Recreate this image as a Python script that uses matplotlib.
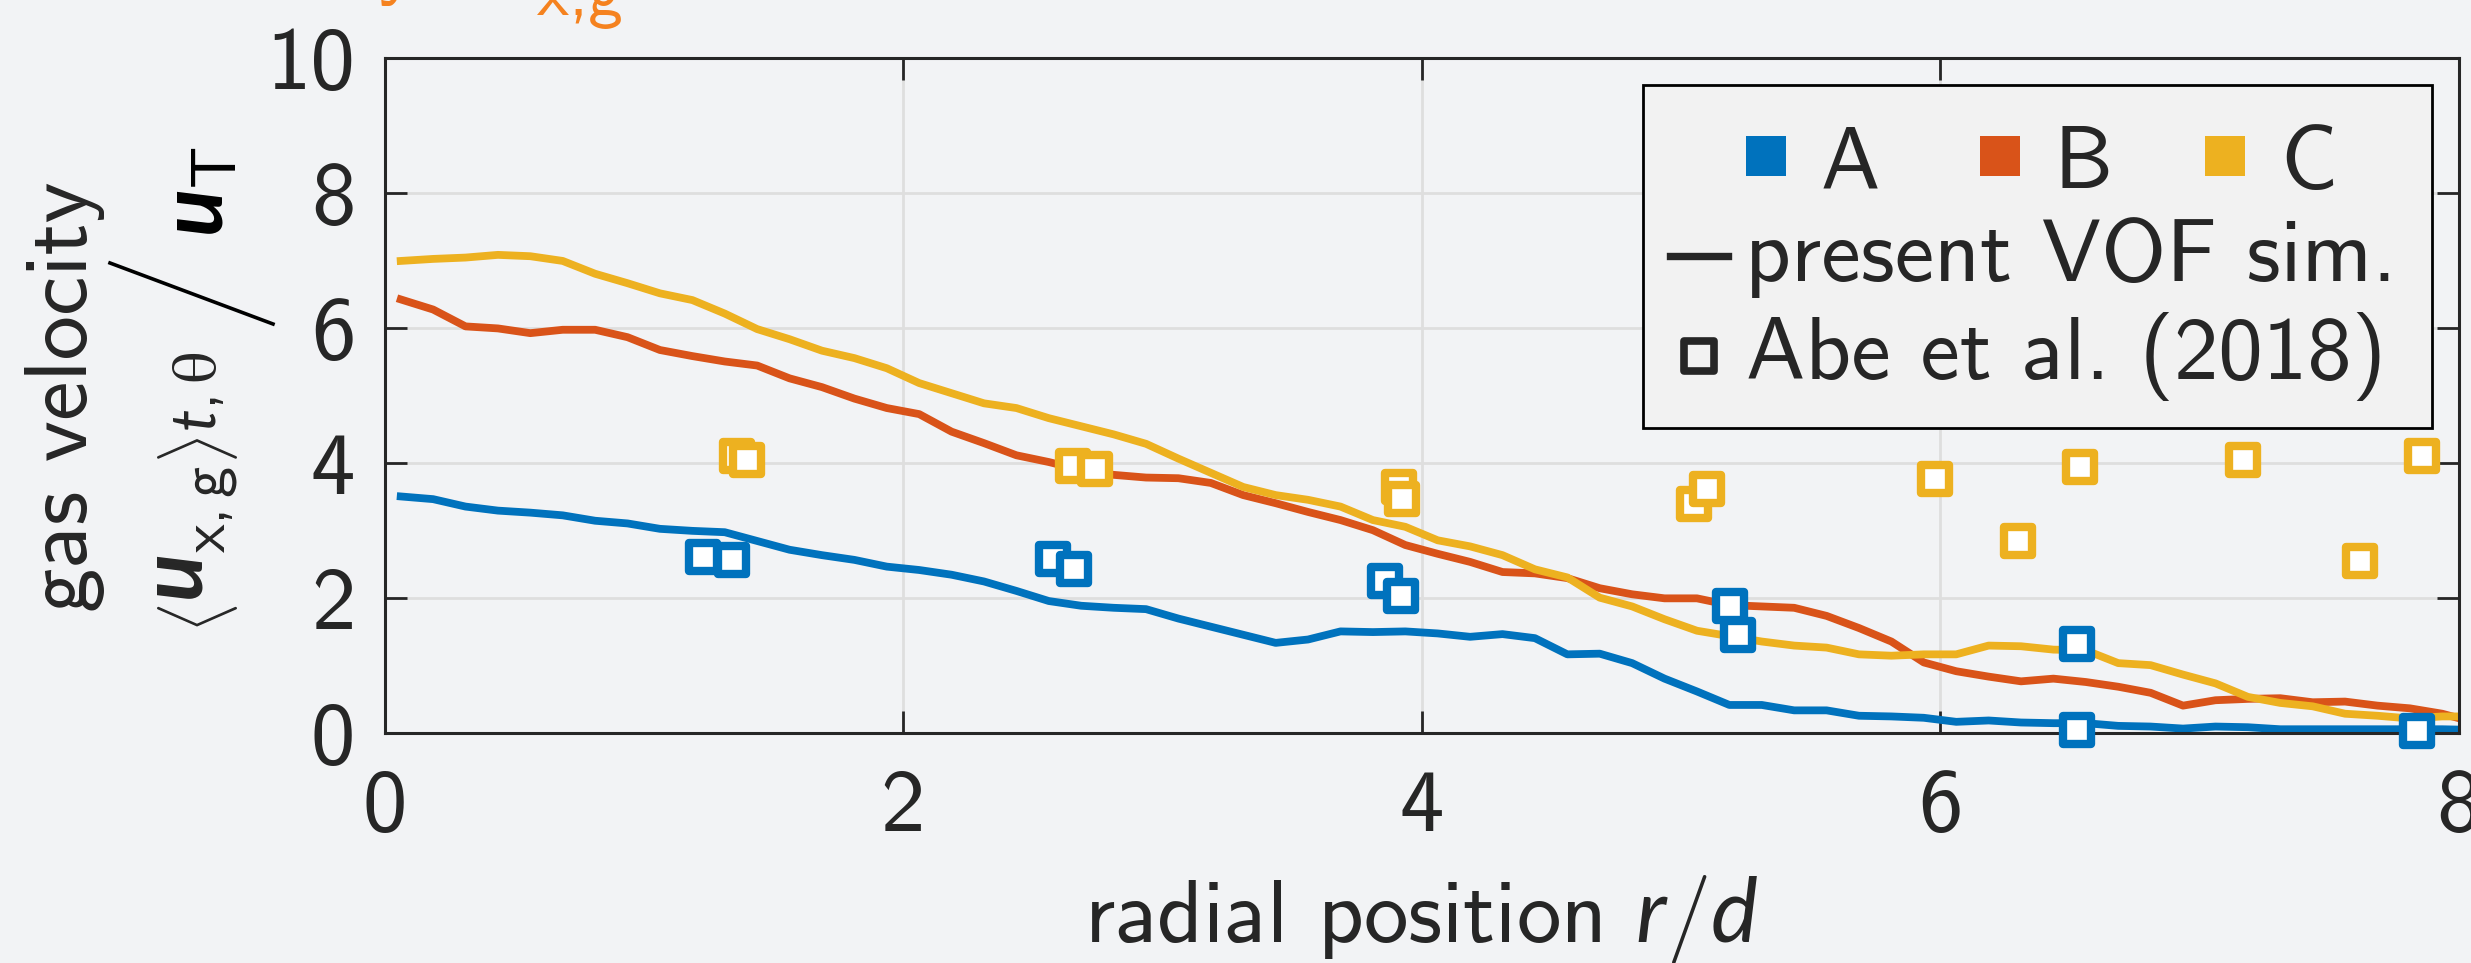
import matplotlib
matplotlib.use("Agg")
import matplotlib.pyplot as plt
from matplotlib.markers import MarkerStyle
from matplotlib.lines import Line2D
from matplotlib.patches import Rectangle

# ---------------- data ----------------
r_sim = [0.0625, 0.1875, 0.3125, 0.4375, 0.5625, 0.6875, 0.8125, 0.9375,
         1.0625, 1.1875, 1.3125, 1.4375, 1.5625, 1.6875, 1.8125, 1.9375,
         2.0625, 2.1875, 2.3125, 2.4375, 2.5625, 2.6875, 2.8125, 2.9375,
         3.0625, 3.1875, 3.3125, 3.4375, 3.5625, 3.6875, 3.8125, 3.9375,
         4.0625, 4.1875, 4.3125, 4.4375, 4.5625, 4.6875, 4.8125, 4.9375,
         5.0625, 5.1875, 5.3125, 5.4375, 5.5625, 5.6875, 5.8125, 5.9375,
         6.0625, 6.1875, 6.3125, 6.4375, 6.5625, 6.6875, 6.8125, 6.9375,
         7.0625, 7.1875, 7.3125, 7.4375, 7.5625, 7.6875, 7.8125, 7.9375,
         8.0625]

sim_A = [3.51, 3.47, 3.36, 3.30, 3.27, 3.23, 3.15, 3.11, 3.03, 3.00, 2.98, 2.85, 2.72, 2.64, 2.57, 2.47,
         2.42, 2.35, 2.25, 2.11, 1.96, 1.89, 1.86, 1.84, 1.70, 1.58, 1.46, 1.34, 1.39, 1.51, 1.50, 1.51,
         1.48, 1.43, 1.47, 1.41, 1.17, 1.18, 1.04, 0.81, 0.62, 0.42, 0.42, 0.34, 0.34, 0.26, 0.25, 0.23,
         0.17, 0.19, 0.16, 0.15, 0.15, 0.11, 0.10, 0.07, 0.10, 0.09, 0.06, 0.06, 0.06, 0.06, 0.06, 0.06,
         0.05]
sim_B = [6.43, 6.28, 6.03, 6.00, 5.93, 5.98, 5.98, 5.87, 5.68, 5.59, 5.51, 5.45, 5.26, 5.13, 4.96, 4.82,
         4.73, 4.47, 4.30, 4.12, 4.02, 3.90, 3.83, 3.79, 3.78, 3.71, 3.53, 3.41, 3.28, 3.16, 3.01, 2.79,
         2.66, 2.54, 2.39, 2.37, 2.30, 2.15, 2.06, 2.00, 2.00, 1.90, 1.88, 1.86, 1.74, 1.56, 1.36, 1.05,
         0.92, 0.84, 0.77, 0.81, 0.76, 0.69, 0.60, 0.41, 0.49, 0.51, 0.52, 0.46, 0.47, 0.41, 0.37, 0.29,
         0.16]
sim_C = [7.00, 7.03, 7.05, 7.09, 7.07, 7.00, 6.81, 6.67, 6.52, 6.42, 6.22, 5.99, 5.84, 5.67, 5.56, 5.41,
         5.19, 5.04, 4.89, 4.82, 4.67, 4.55, 4.43, 4.29, 4.07, 3.86, 3.65, 3.53, 3.46, 3.36, 3.16, 3.06,
         2.86, 2.77, 2.64, 2.43, 2.31, 2.01, 1.88, 1.69, 1.52, 1.44, 1.36, 1.30, 1.27, 1.17, 1.15, 1.17,
         1.17, 1.30, 1.29, 1.24, 1.23, 1.04, 1.01, 0.87, 0.74, 0.54, 0.45, 0.40, 0.29, 0.26, 0.22, 0.25,
         0.25]

exp_A_r = [1.23, 1.34, 2.58, 2.66, 3.86, 3.92, 5.19, 5.22, 6.53, 6.53, 7.84]
exp_A_u = [2.62, 2.57, 2.59, 2.44, 2.26, 2.03, 1.88, 1.46, 1.33, 0.05, 0.03]
exp_C_r = [1.36, 1.40, 2.655, 2.74, 3.915, 3.924, 5.05, 5.10, 5.98, 6.30, 6.54, 7.17, 7.62, 7.86]
exp_C_u = [4.11, 4.05, 3.96, 3.91, 3.65, 3.47, 3.40, 3.62, 3.77, 2.85, 3.94, 4.05, 2.55, 4.11]

series_names = ["A", "B", "C"]
colors = ["#0072BD", "#D95319", "#EDB120"]
x_ticks = [0, 2, 4, 6, 8]
y_ticks = [0, 2, 4, 6, 8, 10]

# ---------------- style ----------------
W, H, DPI = 2471, 963, 100
BG = "#F2F3F5"
TXT = "#262626"
CMSS = ["cmss10", "DejaVu Sans"]
plt.rcParams["font.family"] = CMSS
plt.rcParams["mathtext.fontset"] = "custom"
plt.rcParams["mathtext.rm"] = "cmss10"
plt.rcParams["mathtext.it"] = "Lato:italic"
plt.rcParams["mathtext.bf"] = "Lato:bold:italic"
plt.rcParams["mathtext.fallback"] = "cm"
plt.rcParams["axes.unicode_minus"] = False
plt.rcParams["axes.formatter.use_mathtext"] = False

FS = 64  # pt

fig = plt.figure(figsize=(W / DPI, H / DPI), dpi=DPI, facecolor=BG)


def fx(x):
    return x / W


def fy(y):
    return 1 - y / H


ax = fig.add_axes([fx(384.5), fy(733.3), (2458.5 - 384.5) / W, (733.3 - 58.5) / H])
ax.set_facecolor(BG)
ax.set_xlim(0, 8)
ax.set_ylim(0, 10)
ax.set_xticks(x_ticks)
ax.set_yticks(y_ticks)
ax.set_xticklabels([str(v) for v in x_ticks])
ax.set_yticklabels([str(v) for v in y_ticks])
ax.set_axisbelow(True)
ax.grid(True, color="#DEDEDE", lw=2)
for s in ax.spines.values():
    s.set_color(TXT)
    s.set_linewidth(2.2)
ax.tick_params(direction="in", length=16, width=2, colors=TXT, labelsize=FS,
               top=True, right=True)
ax.tick_params(axis="y", pad=21)
ax.tick_params(axis="x", pad=26)

for ys, c in zip([sim_A, sim_B, sim_C], colors):
    ax.plot(r_sim, ys, color=c, lw=5.6, solid_joinstyle="round", zorder=2)

msq = MarkerStyle("s", joinstyle="round")
for xr, yu, c in zip([exp_A_r, exp_C_r], [exp_A_u, exp_C_u], [colors[0], colors[2]]):
    for xi, yi in zip(xr, yu):
        ax.plot([xi], [yi], ls="none", marker=msq, ms=20.6, mew=6,
                mfc="white", mec=c, zorder=3, clip_on=False)

# ---------------- axis labels ----------------
fig.text(fx(1421), fy(941.7), r"radial position $r/d$", ha="center",
         va="baseline", fontsize=FS, color=TXT)

fig.text(fx(65), fy(397), "gas velocity", rotation=90, ha="center",
         va="center", fontsize=FS, color=TXT)
fig.text(fx(199), fy(492),
         r"$\left\langle \mathbf{u}_{\mathrm{x,g}}^{\,} \right\rangle_{t,\mathrm{θ}}$",
         rotation=90, ha="center", va="center", fontsize=FS, color=TXT)
fig.text(fx(201), fy(192), r"$\mathbf{u}_{\mathrm{T}}$", rotation=90,
         ha="center", va="center", fontsize=FS, color="black")
fig.add_artist(Line2D([fx(110), fx(273)], [fy(263), fy(324)],
                      transform=fig.transFigure, color="black", lw=2.6))

# cropped orange title remnants at the top
ORANGE = "#F5821F"
fig.text(fx(398), fy(-12), "y", ha="center", va="baseline", fontsize=FS, color=ORANGE)
fig.text(fx(537), fy(15), "x,g", ha="left", va="baseline", fontsize=50, color=ORANGE)

# ---------------- legend (drawn manually) ----------------
fig.add_artist(Rectangle((fx(1642.5), fy(427.7)), (2432 - 1642.5) / W, (427.7 - 85) / H,
                         transform=fig.transFigure, facecolor="#F2F2F2",
                         edgecolor="black", lw=2, zorder=5))
sq_x = [1766, 2000, 2225]
txt_x = [1821, 2053, 2280]
for name, c, sx, tx in zip(series_names, colors, sq_x, txt_x):
    fig.add_artist(Line2D([fx(sx)], [fy(156.3)], transform=fig.transFigure, ls="none",
                          marker="s", ms=29.5, mew=0, mfc=c, zorder=6))
    fig.text(fx(tx), fy(188), name, ha="left", va="baseline", fontsize=FS,
             color=TXT, zorder=6)
fig.add_artist(Line2D([fx(1669.6), fx(1727.8)], [fy(256.3), fy(256.3)],
                      transform=fig.transFigure, color=TXT, lw=5.3, zorder=6))
fig.text(fx(1745), fy(281), "present VOF sim.", ha="left", va="baseline",
         fontsize=FS, color=TXT, zorder=6)
fig.add_artist(Line2D([fx(1699)], [fy(356)], transform=fig.transFigure, ls="none",
                      marker=msq, ms=22, mew=5.5, mfc="none", mec=TXT, zorder=6))
fig.text(fx(1746), fy(379), "Abe et al. (2018)", ha="left", va="baseline",
         fontsize=FS, color=TXT, zorder=6)

fig.savefig("out.png", dpi=DPI, facecolor=BG)
